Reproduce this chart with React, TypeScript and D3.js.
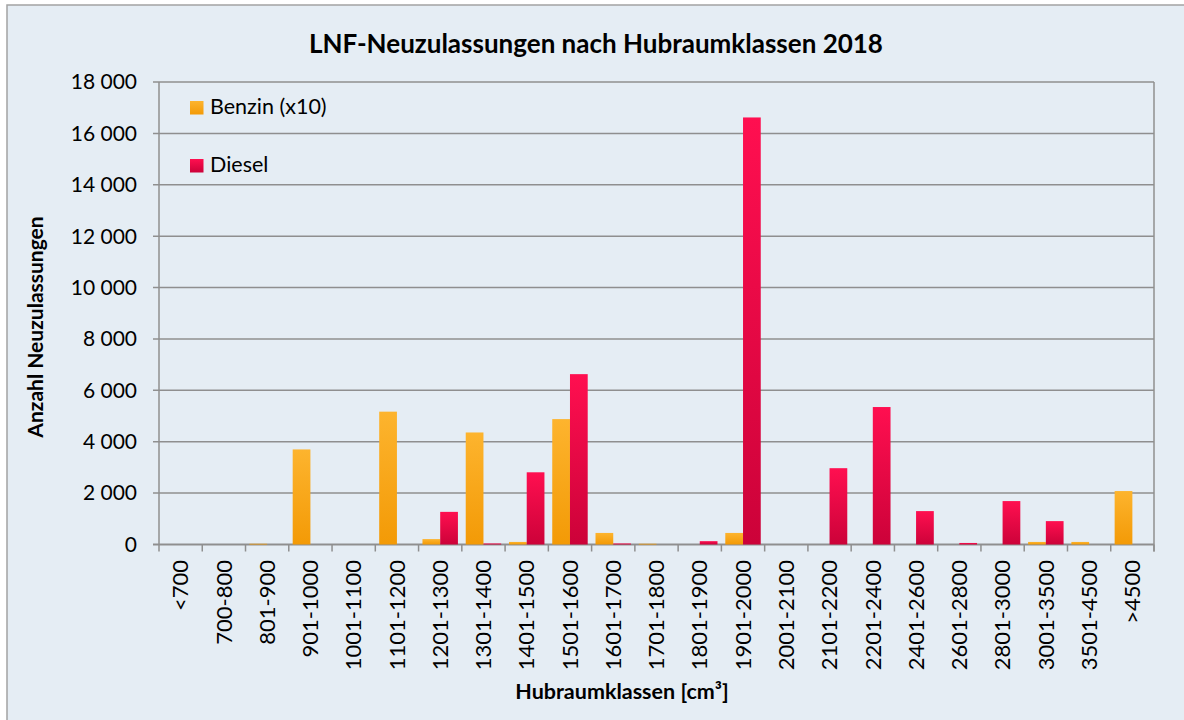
import React from 'react';
import * as d3 from 'd3';

const categories = [
  '<700', '700-800', '801-900', '901-1000', '1001-1100', '1101-1200', '1201-1300',
  '1301-1400', '1401-1500', '1501-1600', '1601-1700', '1701-1800', '1801-1900',
  '1901-2000', '2001-2100', '2101-2200', '2201-2400', '2401-2600', '2601-2800',
  '2801-3000', '3001-3500', '3501-4500', '>4500',
];

// Benzin is already multiplied by 10, as in the legend
const benzin = [0, 0, 30, 3700, 0, 5170, 210, 4360, 100, 4880, 450, 30, 0, 450, 0, 0, 0, 0, 0, 0, 100, 100, 2080];
const diesel = [0, 0, 0, 0, 0, 0, 1270, 40, 2810, 6630, 40, 0, 130, 16620, 0, 2970, 5350, 1300, 60, 1690, 910, 0, 0];

const seriesNames = ['Benzin (x10)', 'Diesel'];
const yTicks = [0, 2000, 4000, 6000, 8000, 10000, 12000, 14000, 16000, 18000];

const W = 1184;
const H = 720;
const margin = { left: 159, right: 1154, top: 82, bottom: 544.5 };
const FONT = 'Lato, "Open Sans", sans-serif';

const fmt = (v: number) => d3.format(',')(v).replace(/,/g, ' ');

export default function App() {
  const x = d3.scaleBand<string>().domain(categories).range([margin.left, margin.right]).padding(0);
  const inner = d3.scaleBand<string>().domain(seriesNames).range([0, x.bandwidth()]).paddingInner(0).paddingOuter(0.22);
  const y = d3.scaleLinear().domain([0, 18000]).range([margin.bottom, margin.top]);

  const series = [
    { name: seriesNames[0], values: benzin, fill: 'url(#gBenzin)' },
    { name: seriesNames[1], values: diesel, fill: 'url(#gDiesel)' },
  ];

  const boundaries = categories.map((c) => x(c) as number).concat([margin.right]);

  return (
    <svg width={W} height={H} style={{ position: 'absolute', left: 0, top: 0 }} fontFamily={FONT}>
      <defs>
        <linearGradient id="gBenzin" x1="0" y1="0" x2="0" y2="1">
          <stop offset="0%" stopColor="#FDB42E" />
          <stop offset="100%" stopColor="#F39A06" />
        </linearGradient>
        <linearGradient id="gDiesel" x1="0" y1="0" x2="0" y2="1">
          <stop offset="0%" stopColor="#FF0F50" />
          <stop offset="100%" stopColor="#CC0239" />
        </linearGradient>
      </defs>
      <rect x={0} y={0} width={W} height={H} fill="#ffffff" />
      <rect x={7} y={5} width={W + 20} height={H + 20} fill="#E5EDF4" stroke="#A3A3A3" strokeWidth={1.5} />

      {/* gridlines */}
      {yTicks.map((t) => (
        <g key={t}>
          <line x1={margin.left - 6} x2={margin.right} y1={y(t)} y2={y(t)} stroke="#8F8F8F" strokeWidth={t === 0 ? 2 : 1.5} />
          <text x={137} y={y(t)} dy="0.35em" textAnchor="end" fontSize={21} fill="#000">
            {fmt(t)}
          </text>
        </g>
      ))}
      <line x1={margin.left} x2={margin.left} y1={margin.top} y2={margin.bottom} stroke="#8F8F8F" strokeWidth={1.5} />
      <line x1={margin.right} x2={margin.right} y1={margin.top} y2={margin.bottom + 7} stroke="#8F8F8F" strokeWidth={1.5} />

      {/* x ticks */}
      {boundaries.map((b, i) => (
        <line key={i} x1={b} x2={b} y1={margin.bottom} y2={margin.bottom + 7} stroke="#8F8F8F" strokeWidth={1.5} />
      ))}

      {/* bars */}
      {series.map((s) => (
        <g key={s.name}>
          {s.values.map((v, i) =>
            v > 0 ? (
              <rect
                key={i}
                x={(x(categories[i]) as number) + (inner(s.name) as number)}
                y={y(v)}
                width={inner.bandwidth()}
                height={margin.bottom - y(v)}
                fill={s.fill}
              />
            ) : null
          )}
        </g>
      ))}

      {/* x labels */}
      {categories.map((c) => {
        const cx = (x(c) as number) + x.bandwidth() / 2;
        return (
          <text key={c} transform={`translate(${cx},${560}) rotate(-90)`} dy="0.35em" textAnchor="end" fontSize={22} fill="#000">
            {c}
          </text>
        );
      })}

      {/* legend */}
      {series.map((s, i) => (
        <g key={s.name} transform={`translate(190,${101 + i * 58})`}>
          <rect x={0} y={0} width={13.5} height={13.5} fill={s.fill} />
          <text x={20} y={13} fontSize={21.5} fill="#000">
            {s.name}
          </text>
        </g>
      ))}

      {/* titles */}
      <text x={596} y={53} textAnchor="middle" fontSize={26} fontWeight="bold" fill="#000">
        LNF-Neuzulassungen nach Hubraumklassen 2018
      </text>
      <text x={622} y={699} textAnchor="middle" fontSize={21.5} fontWeight="bold" fill="#000">
        Hubraumklassen [cm³]
      </text>
      <text transform="translate(43,327) rotate(-90)" textAnchor="middle" fontSize={21} fontWeight="bold" fill="#000">
        Anzahl Neuzulassungen
      </text>
    </svg>
  );
}
